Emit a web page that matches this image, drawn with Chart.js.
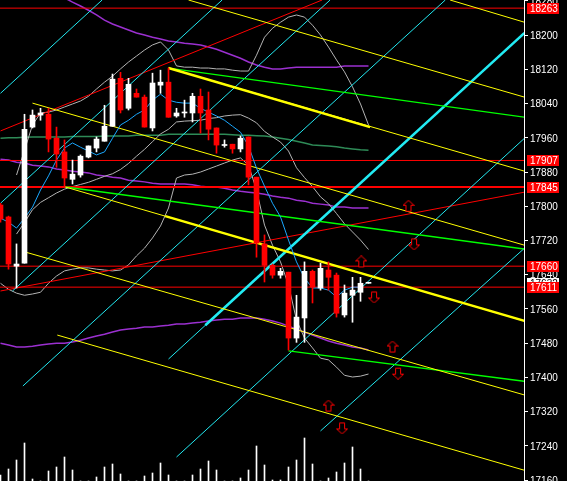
<!DOCTYPE html>
<html>
<head>
<meta charset="utf-8">
<script src="https://cdn.jsdelivr.net/npm/chart.js@4.4.1/dist/chart.umd.min.js"></script>
<style>
  html, body { margin: 0; padding: 0; background: #000; overflow: hidden; }
  #wrap { width: 567px; height: 481px; }
</style>
</head>
<body>
<div id="wrap"><canvas id="chart" width="567" height="481"></canvas></div>
<script>
// bar number 0..46, one candle per bar
const opens  = [17803, 17775, 17660, 17667, 17985, 18013, 18015, 17959, 17927, 17863,
                17873, 17915, 17936, 17952, 17987, 18099, 18029, 18064, 18055, 17983,
                18083, 18090, 18011, 18018, 18018, 18057, 18025, 17983, 17942, 17945,
                17934, 17962, 17868, 17712, 17662, 17639, 17646, 17492, 17539, 17648,
                17609, 17651, 17639, 17546, 17592, 17599, 17620];
const highs  = [17807, 17777, 17712, 18015, 18025, 18029, 18029, 17985, 17955, 17908,
                17920, 17941, 17962, 18036, 18109, 18113, 18099, 18074, 18060, 18111,
                18118, 18123, 18029, 18048, 18064, 18074, 18067, 17983, 17955, 17945,
                17964, 17962, 17868, 17733, 17665, 17655, 17646, 17592, 17670, 17651,
                17667, 17670, 17644, 17616, 17634, 17634, 17621];
const lows   = [17763, 17653, 17609, 17667, 17983, 18001, 17927, 17891, 17845, 17852,
                17868, 17913, 17927, 17952, 17987, 18018, 18025, 18055, 17985, 17976,
                18064, 18008, 18008, 18008, 17997, 17971, 17955, 17924, 17938, 17924,
                17927, 17850, 17681, 17623, 17632, 17632, 17464, 17482, 17482, 17574,
                17604, 17604, 17541, 17541, 17529, 17578, 17620];
const closes = [17770, 17665, 17665, 17980, 18013, 18018, 17957, 17922, 17866, 17875,
                17917, 17941, 17957, 17987, 18097, 18025, 18085, 18055, 17985, 18088,
                18090, 18008, 18018, 18020, 18057, 18018, 17980, 17943, 17943, 17934,
                17959, 17868, 17714, 17662, 17639, 17648, 17492, 17541, 17648, 17611,
                17655, 17634, 17550, 17597, 17604, 17620, 17621];
const volumes = [6, 12, 21, 38, 2, 0, 10, 14, 24, 11, 0, 0, 4, 14, 17, 7, 0, 0, 5, 8,
                 18, 6, 0, 0, 6, 12, 20, 11, 0, 0, 3, 11, 35, 16, 1, 1, 14, 21, 43, 17,
                 0, 3, 9, 18, 34, 12, 0];

// indicators, one value per bar
const fastMA = [17772, 17763, 17749, 17772, 17798, 17838, 17871, 17908, 17936, 17948,
                17938, 17929, 17920, 17927, 17959, 17990, 18001, 18015, 18025, 18048,
                18062, 18048, 18043, 18041, 18041, 18029, 18020, 18011, 18001, 17987,
                17973, 17941, 17889, 17847, 17807, 17775, 17721, 17670, 17632, 17609,
                17609, 17604, 17588, 17604, 17611, 17611];
const bandUpper = [null, null, 17873, 17931, 17990, 18018, 18020, 18025, 18032, 18039,
                   18046, 18057, 18074, 18090, 18104, 18121, 18137, 18151, 18165, 18177,
                   18184, 18165, 18128, 18125, 18125, 18123, 18123, 18121, 18121, 18118,
                   18116, 18116, 18153, 18195, 18216, 18230, 18242, 18247, 18242, 18223,
                   18200, 18172, 18142, 18114, 18079, 18039, 17990];
const bandMiddle = [null, null, 17735, 17762, 17792, 17809, 17820, 17831, 17840, 17846,
                    17851, 17856, 17863, 17870, 17876, 17886, 17900, 17917, 17933, 17951,
                    17969, 17980, 17997, 17999, 18000, 18001, 18005, 18007, 18011, 18013,
                    18014, 18006, 17995, 17975, 17962, 17950, 17929, 17890, 17867, 17846,
                    17822, 17806, 17783, 17759, 17740, 17721, 17699];
const bandLower = [17620, 17606, 17597, 17592, 17595, 17599, 17620, 17637, 17649, 17653,
                   17656, 17656, 17653, 17651, 17649, 17651, 17663, 17684, 17702, 17726,
                   17754, 17796, 17866, 17873, 17875, 17880, 17887, 17894, 17901, 17908,
                   17913, 17896, 17838, 17756, 17709, 17670, 17616, 17534, 17492, 17469,
                   17445, 17441, 17424, 17405, 17401, 17403, 17408];
const purpleHigh = [null, null, null, null, null, null, null, null, 18287, 18277,
                    18268, 18258, 18247, 18235, 18226, 18219, 18212, 18205, 18200, 18195,
                    18191, 18186, 18184, 18181, 18179, 18177, 18172, 18167, 18160, 18153,
                    18146, 18137, 18130, 18125, 18121, 18121, 18123, 18125, 18125, 18125,
                    18125, 18125, 18125, 18128, 18128, 18128, 18128];
const purpleMid = [17910, 17908, 17903, 17901, 17896, 17894, 17892, 17887, 17885, 17882,
                   17880, 17878, 17873, 17871, 17868, 17866, 17861, 17859, 17857, 17854,
                   17852, 17852, 17852, 17852, 17850, 17847, 17845, 17845, 17842, 17838,
                   17835, 17833, 17831, 17828, 17824, 17821, 17819, 17814, 17812, 17807,
                   17805, 17803, 17798, 17798, 17796, 17796, 17796];
const purpleLow = [17480, 17476, 17471, 17471, 17473, 17476, 17478, 17480, 17480, 17483,
                   17487, 17492, 17497, 17501, 17506, 17511, 17513, 17515, 17518, 17518,
                   17520, 17522, 17525, 17525, 17527, 17529, 17532, 17534, 17536, 17536,
                   17539, 17539, 17539, 17536, 17532, 17527, 17520, 17513, 17506, 17499,
                   17492, 17485, 17480, 17476, 17471, 17469, 17464];
const slowMA = [17959, 17960, 17960, 17961, 17962, 17962, 17962, 17962, 17962, 17963,
                17963, 17963, 17963, 17964, 17964, 17964, 17964, 17966, 17966, 17966,
                17966, 17968, 17968, 17968, 17968, 17968, 17968, 17968, 17968, 17967,
                17966, 17966, 17965, 17964, 17962, 17959, 17956, 17952, 17948, 17943,
                17942, 17941, 17939, 17936, 17934, 17932, 17931];

// drawn lines: [bar, price] end points
const levels = [18263, 17907, 17845, 17660, 17611];
const redUp1 = [[0, 17976], [40.2, 18282]];
const redUp2 = [[0, 17602], [65.5, 17833]];
const yellowLines = [
  [[56.2, 18282], [65.5, 18230]],
  [[23.5, 18282], [65.5, 18055]],
  [[21.0, 18123], [65.5, 17882]],
  [[4.0, 18041], [65.5, 17709]],
  [[8.1, 17845], [65.5, 17532]],
  [[3.1, 17693], [65.5, 17359]],
  [[7.1, 17499], [65.5, 17183]]
];
const yellowThick = [
  [[21.0, 18123], [46.2, 17985]],
  [[20.6, 17777], [65.5, 17532]]
];
const greenLines = [
  [[21.0, 18123], [65.5, 18008]],
  [[8.1, 17845], [65.5, 17700]],
  [[36.0, 17462], [65.5, 17391]]
];
const cyanLines = [
  [[0, 18064], [12.7, 18282]],
  [[0, 17807], [27.7, 18282]],
  [[1.5, 17602], [41.2, 18282]],
  [[2.8, 17380], [55.6, 18282]],
  [[21.0, 17443], [65.5, 18205]],
  [[22.0, 17214], [65.5, 17959]],
  [[40.0, 17275], [65.5, 17702]]
];
const cyanThick = [[25.6, 17522], [65.5, 18205]];

// signal arrows
const arrowsUp   = [[51.0, 17800], [45.1, 17670], [49.0, 17471], [41.0, 17333]];
const arrowsDown = [[51.7, 17712], [46.7, 17588], [49.7, 17410], [42.7, 17282]];

// right-hand axis
const yTicks = [17160, 17240, 17320, 17400, 17480, 17560, 17640, 17720, 17800,
                17880, 17960, 18040, 18120, 18200, 18280];
const lastPrice = 17632;

const pts = arr => arr.map(p => ({ x: p[0], y: p[1] }));
const series = arr => arr.map((v, i) => ({ x: i, y: v }));

function lineDs(data, color, width, order) {
  return {
    type: 'line', data: data, borderColor: color, borderWidth: width,
    pointRadius: 0, tension: 0, fill: false, spanGaps: false, order: order,
    xAxisID: 'x', yAxisID: 'y'
  };
}

function makeArrow(up) {
  const c = document.createElement('canvas');
  c.width = 12; c.height = 13;
  const g = c.getContext('2d');
  g.translate(0.5, 0.5);
  if (!up) { g.translate(0, 12); g.scale(1, -1); }
  g.beginPath();
  g.moveTo(5.5, 0); g.lineTo(11, 5); g.lineTo(8, 5); g.lineTo(8, 11);
  g.lineTo(3, 11); g.lineTo(3, 5); g.lineTo(0, 5); g.closePath();
  g.fillStyle = '#000'; g.fill();
  g.strokeStyle = '#ff0000'; g.lineWidth = 1; g.stroke();
  return c;
}

const bars = opens.map((o, i) => i);
const upColor = '#ffffff', downColor = '#ff0000';
const candleColor = bars.map(i => closes[i] >= opens[i] ? upColor : downColor);

const datasets = [];

// candles
datasets.push({
  type: 'bar', data: bars.map(i => ({ x: i, y: [opens[i], closes[i]] })),
  backgroundColor: candleColor, barThickness: 5, minBarLength: 1,
  grouped: false, order: 0, xAxisID: 'x', yAxisID: 'y'
});
datasets.push({
  type: 'bar', data: bars.map(i => ({ x: i, y: [lows[i], highs[i]] })),
  backgroundColor: candleColor, barThickness: 1, grouped: false, order: 0,
  xAxisID: 'x', yAxisID: 'y'
});
// volume
datasets.push({
  type: 'bar', data: bars.map(i => ({ x: i, y: volumes[i] })),
  backgroundColor: '#ffffff', barThickness: 1, grouped: false, order: 0,
  xAxisID: 'x', yAxisID: 'yv'
});

// indicators
datasets.push(lineDs(series(bandUpper), '#b4b4b4', 1, 5));
datasets.push(lineDs(series(bandMiddle), '#b4b4b4', 1, 5));
datasets.push(lineDs(series(bandLower), '#b4b4b4', 1, 5));
datasets.push(lineDs(series(purpleHigh), '#9b30d0', 1.5, 5));
datasets.push(lineDs(series(purpleMid), '#9b30d0', 1.5, 5));
datasets.push(lineDs(series(purpleLow), '#9b30d0', 1.5, 5));
datasets.push(lineDs(series(slowMA), '#2e8b57', 1.5, 5));
datasets.push(lineDs(series(fastMA), '#1aa8ff', 1, 2));

// drawn tools
levels.forEach(v => {
  datasets.push(lineDs([{ x: -1, y: v }, { x: 66, y: v }], '#ff0000', v === 17845 ? 2 : 1, 4));
});
datasets.push(lineDs(pts(redUp1), '#ff0000', 1, 4));
datasets.push(lineDs(pts(redUp2), '#ff0000', 1, 4));
yellowLines.forEach(l => datasets.push(lineDs(pts(l), '#ffff00', 1, 3)));
yellowThick.forEach(l => datasets.push(lineDs(pts(l), '#ffff00', 2.5, 3)));
greenLines.forEach(l => datasets.push(lineDs(pts(l), '#00ff00', 1.3, 3)));
cyanLines.forEach(l => datasets.push(lineDs(pts(l), '#22e8f0', 1, 3)));
datasets.push(lineDs(pts(cyanThick), '#22f0f8', 2.5, 3));

// arrows
const upImg = makeArrow(true), downImg = makeArrow(false);
datasets.push({
  type: 'line', data: pts(arrowsUp), showLine: false, pointStyle: upImg,
  pointRadius: 6, order: 1, xAxisID: 'x', yAxisID: 'y'
});
datasets.push({
  type: 'line', data: pts(arrowsDown), showLine: false, pointStyle: downImg,
  pointRadius: 6, order: 1, xAxisID: 'x', yAxisID: 'y'
});

// tick labels and price tags on the right axis
const axisText = {
  id: 'axisText',
  afterDraw(chart) {
    const ctx = chart.ctx;
    const y = chart.scales.y;
    const x0 = chart.chartArea.right;
    ctx.save();
    ctx.font = '10px "Liberation Sans"';
    ctx.textBaseline = 'middle';
    ctx.fillStyle = '#ffffff';
    yTicks.forEach(v => ctx.fillText(String(v), x0 + 6, y.getPixelForValue(v) + 1));
    const tag = (v, bg, fg, dy) => {
      const py = Math.round(y.getPixelForValue(v)) + dy;
      ctx.fillStyle = bg;
      ctx.fillRect(x0 + 3, py - 5, 32, 11);
      ctx.fillStyle = fg;
      ctx.fillText(String(v), x0 + 6, py + 1);
    };
    tag(lastPrice, '#ffffff', '#000000', 5);
    levels.forEach(v => tag(v, '#ff0000', '#ffffff', 0));
    ctx.restore();
  }
};

new Chart(document.getElementById('chart'), {
  type: 'bar',
  data: { datasets: datasets },
  options: {
    responsive: false,
    animation: false,
    events: [],
    layout: { padding: 0, autoPadding: false },
    plugins: { legend: { display: false }, tooltip: { enabled: false } },
    scales: {
      x: { type: 'linear', display: false, min: -0.0625, max: 65.4375, offset: false },
      y: {
        type: 'linear', position: 'right', min: 17158, max: 18282,
        afterBuildTicks: s => { s.ticks = yTicks.map(v => ({ value: v })); },
        afterFit: s => { s.width = 43; },
        ticks: { display: false },
        grid: { drawOnChartArea: false, color: '#ffffff', tickLength: 4 },
        border: { color: '#ffffff', width: 1 }
      },
      yv: { type: 'linear', display: false, min: 0, max: 481 }
    }
  },
  plugins: [axisText]
});
</script>
</body>
</html>
